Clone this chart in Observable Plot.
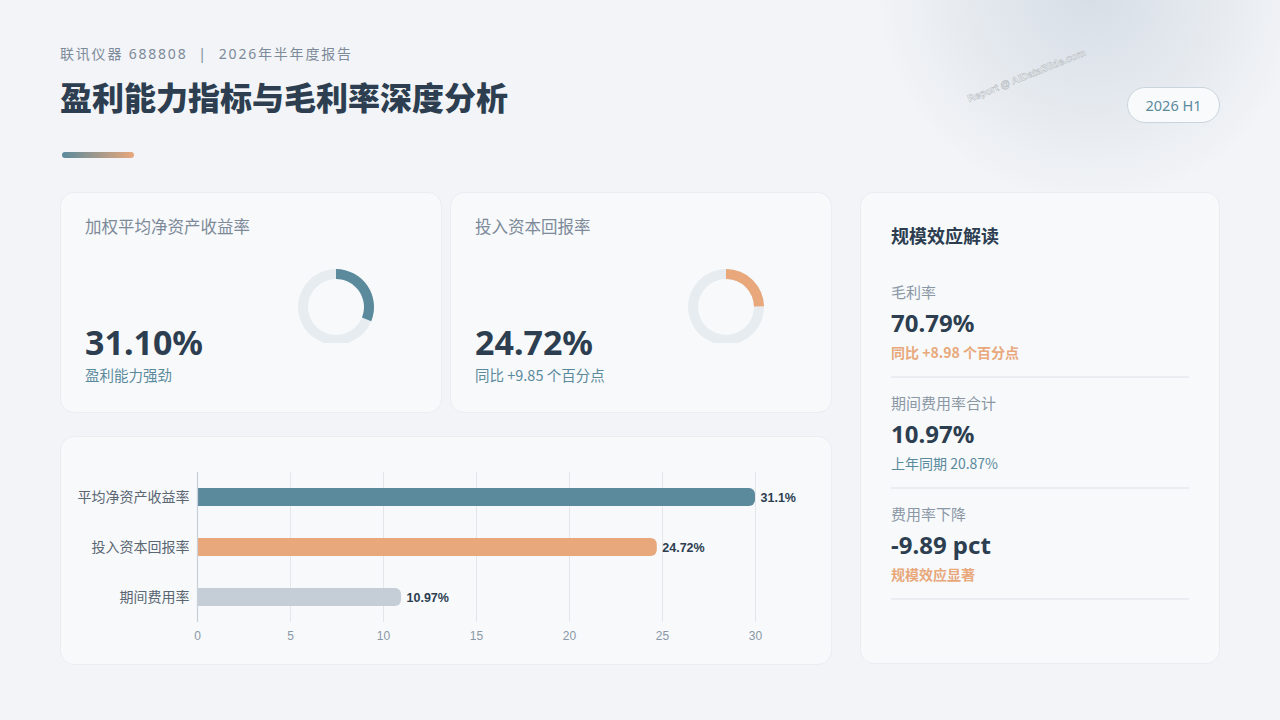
<!DOCTYPE html>
<html>
<head>
<meta charset="utf-8">
<script src="https://cdn.jsdelivr.net/npm/d3@7"></script>
<script src="https://cdn.jsdelivr.net/npm/@observablehq/plot@0.6"></script>
<style>
  html, body { margin: 0; padding: 0; }
  body { width: 1280px; height: 720px; background: #f2f4f7; position: relative; overflow: hidden;
         font-family: "Noto Sans", "Noto Sans CJK SC", sans-serif; color: #2c3e50; }
  .abs { position: absolute; }
  .glow { left: 880px; top: -220px; width: 420px; height: 420px; border-radius: 50%;
          background: radial-gradient(circle at 50% 50%, rgba(150,170,190,0.30) 0%, rgba(190,202,214,0.25) 40%, rgba(242,244,247,0) 72%); }
  .sub { left: 60px; top: 43px; font-size: 14px; color: #7d8a99; letter-spacing: 1.8px; white-space: pre; }
  .title { left: 60px; top: 73px; font-family: "Noto Sans CJK SC", sans-serif; font-size: 32px; font-weight: 900; color: #2c3e50; letter-spacing: 0px; }
  .accent { left: 62px; top: 152px; width: 72px; height: 6px; border-radius: 3px; background: linear-gradient(90deg, #5b8a9c, #e8a87c); }
  .badge { left: 1127px; top: 87px; width: 91px; height: 34px; border: 1px solid #c9d5dd; border-radius: 18px; background: #f8fafc;
           font-size: 14.5px; color: #5b8a9c; display: flex; align-items: center; justify-content: center; }
  .wm { left: 966px; top: 94px; font-family: "Liberation Sans", sans-serif; font-size: 10px; font-weight: 700; color: rgba(255,255,255,0.6);
        -webkit-text-stroke: 0.5px #b4bac0; transform: rotate(-22deg); transform-origin: left top; white-space: nowrap; }
  .card { background: #f7f9fb; border: 1px solid #e9eef2; border-radius: 14px; box-sizing: border-box; }
  .ktitle { font-size: 16.5px; color: #7d8a99; font-family: "Noto Sans CJK SC", sans-serif; }
  .kval { font-size: 34px; font-weight: 700; color: #2c3e50; }
  .ksub { font-size: 14.5px; color: #5b8a9c; font-family: "Noto Sans CJK SC", "Noto Sans", sans-serif; }
  .rtitle { font-size: 18px; font-weight: 700; color: #2c3e50; font-family: "Noto Sans CJK SC", sans-serif; }
  .rlab { font-size: 15px; color: #8a97a5; font-family: "Noto Sans CJK SC", sans-serif; }
  .rval { font-size: 24px; font-weight: 700; color: #2c3e50; }
  .rnote { font-size: 14px; font-family: "Noto Sans CJK SC", "Noto Sans", sans-serif; }
  .div { height: 2px; background: #e9edf2; width: 298px; }
</style>
</head>
<body>
<div class="abs glow"></div>
<div class="abs sub">联讯仪器 688808  |  2026年半年度报告</div>
<div class="abs title">盈利能力指标与毛利率深度分析</div>
<div class="abs accent"></div>
<div class="abs wm">Report @ AIDataSlide.com</div>
<div class="abs badge">2026 H1</div>

<div class="abs card" style="left:60px;top:192px;width:382px;height:221px;"></div>
<div class="abs card" style="left:450px;top:192px;width:382px;height:221px;"></div>
<div class="abs card" style="left:60px;top:436px;width:772px;height:229px;"></div>
<div class="abs card" style="left:860px;top:192px;width:360px;height:472px;"></div>

<div id="kpis"></div>
<div id="donuts"></div>
<div id="bars" class="abs" style="left:60px;top:436px;"></div>
<div id="right"></div>

<script>
// ---------- data ----------
const kpiTitles = ["加权平均净资产收益率", "投入资本回报率"];
const kpiValues = [31.10, 24.72];
const kpiNotes  = ["盈利能力强劲", "同比 +9.85 个百分点"];
const kpiColors = ["#5b8a9c", "#e8a87c"];

const barCategories = ["平均净资产收益率", "投入资本回报率", "期间费用率"];
const barValues     = [31.1, 24.72, 10.97];
const barColors     = ["#5b8a9c", "#e8a87c", "#c5cdd6"];
const xTicks        = [0, 5, 10, 15, 20, 25, 30];

const rightTitle  = "规模效应解读";
const rightLabels = ["毛利率", "期间费用率合计", "费用率下降"];
const rightValues = ["70.79%", "10.97%", "-9.89 pct"];
const rightNotes  = ["同比 +8.98 个百分点", "上年同期 20.87%", "规模效应显著"];
const rightNoteStyles = ["orange", "plain", "orange"];

// ---------- KPI cards ----------
const cardLefts = [60, 450];
const kpiBox = document.getElementById("kpis");
kpiTitles.forEach((t, i) => {
  const x = cardLefts[i] + 25;
  kpiBox.insertAdjacentHTML("beforeend",
    `<div class="abs ktitle" style="left:${x}px;top:214px;">${t}</div>
     <div class="abs kval" style="left:${x}px;top:319px;">${kpiValues[i].toFixed(2)}%</div>
     <div class="abs ksub" style="left:${x}px;top:364px;">${kpiNotes[i]}</div>`);
});

// ---------- donuts (Plot with a D3 arc mark) ----------
const donutBox = document.getElementById("donuts");
kpiValues.forEach((v, i) => {
  const angle = d3.scaleLinear().domain([0, 100]).range([0, 2 * Math.PI]);
  const arc = d3.arc().innerRadius(28).outerRadius(38);
  const plot = Plot.plot({
    width: 80, height: 74, margin: 0,
    style: { background: "transparent", overflow: "hidden" },
    marks: [
      (index, scales, values, dims) => {
        const g = d3.create("svg:g").attr("transform", "translate(40,38)");
        g.append("path").attr("d", arc({ startAngle: 0, endAngle: 2 * Math.PI })).attr("fill", "#e6ecf0");
        g.append("path").attr("d", arc({ startAngle: 0, endAngle: angle(v) })).attr("fill", kpiColors[i]);
        return g.node();
      }
    ]
  });
  plot.style.position = "absolute";
  plot.style.left = (cardLefts[i] + 236) + "px";
  plot.style.top = "269px";
  donutBox.appendChild(plot);
});

// ---------- bar chart ----------
const xMax = 30;
const rows = barCategories.map((c, i) => ({ cat: c, value: barValues[i], color: barColors[i] }));
const chart = Plot.plot({
  width: 772, height: 229,
  marginLeft: 137, marginRight: 77, marginTop: 36, marginBottom: 43,
  style: { background: "transparent", fontFamily: "\"Liberation Sans\", sans-serif" },
  x: { domain: [0, xMax], ticks: xTicks, grid: false, label: null, tickSize: 0, tickPadding: 9 },
  y: { domain: barCategories, padding: 0, label: null, tickSize: 0, tickPadding: 8 },
  marks: [
    Plot.ruleX(xTicks.slice(1), { stroke: "#e3e7ec", strokeWidth: 1 }),
    Plot.barX(rows, { y: "cat", x1: -1, x2: d => Math.min(d.value, xMax), fill: "color", rx: 6, clip: true,
                      insetTop: 16, insetBottom: 16 }),
    Plot.ruleX([0], { stroke: "#c8d1d9", strokeWidth: 1.2 }),
    Plot.text(rows, { y: "cat", x: d => Math.min(d.value, xMax), text: d => `${d.value}%`, dx: 5, textAnchor: "start",
                      fill: "#2c3e50", fontWeight: 700, fontSize: 12.5 }),
    Plot.axisX({ ticks: xTicks, tickSize: 0, tickPadding: 9, fill: "#8a97a5", fontSize: 12, label: null }),
    Plot.axisY({ tickSize: 0, tickPadding: 8, fill: "#5a6672", fontSize: 14, label: null,
                 fontFamily: "\"Noto Sans CJK SC\", sans-serif" })
  ]
});
document.getElementById("bars").appendChild(chart);

// ---------- right panel ----------
const right = document.getElementById("right");
right.insertAdjacentHTML("beforeend", `<div class="abs rtitle" style="left:891px;top:222px;">${rightTitle}</div>`);
rightLabels.forEach((lab, i) => {
  const y0 = 281 + i * 111;
  const noteColor = rightNoteStyles[i] === "orange" ? "#e8a87c" : "#5b8a9c";
  const noteWeight = rightNoteStyles[i] === "orange" ? 700 : 400;
  right.insertAdjacentHTML("beforeend",
    `<div class="abs rlab" style="left:891px;top:${y0}px;">${lab}</div>
     <div class="abs rval" style="left:891px;top:${y0 + 25}px;">${rightValues[i]}</div>
     <div class="abs rnote" style="left:891px;top:${y0 + 61}px;color:${noteColor};font-weight:${noteWeight};">${rightNotes[i]}</div>
     <div class="abs div" style="left:891px;top:${y0 + 95}px;"></div>`);
});
</script>
</body>
</html>
